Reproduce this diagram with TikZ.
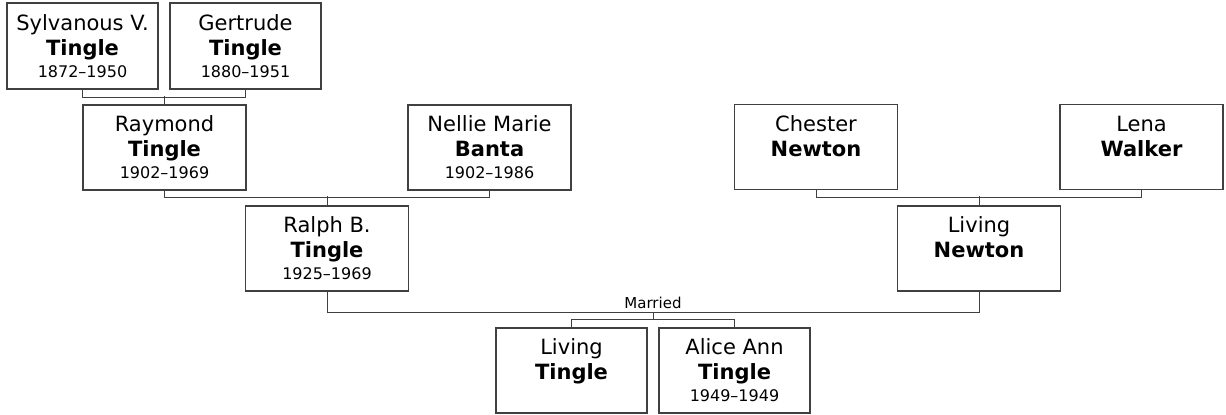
\documentclass[tikz,border=0pt]{standalone}
\usepackage{fontspec}
\setmainfont{DejaVu Sans}
\newcommand{\yrs}[1]{{\fontsize{8}{11}\selectfont\vphantom{0}#1}}

\begin{document}
\begin{tikzpicture}[x=0.5pt,y=-0.5pt,
  person/.style={draw=black!75,line width=0.7pt,minimum width=81.5pt,minimum height=42.5pt,
    inner sep=2pt,align=center,font=\fontsize{10.5}{12.5}\selectfont},
  elder/.style={person,minimum width=75.5pt,minimum height=43pt},
  link/.style={draw=black!75,line width=0.5pt}]
\useasboundingbox (0,0) rectangle (1226,414);
% grandparents and parents
\node[elder] (syl) at (82.5,46) {Sylvanous V.\\\textbf{Tingle}\\[-1.5pt]\yrs{1872--1950}};
\node[elder] (ger) at (245.5,46) {Gertrude\\\textbf{Tingle}\\[-1.5pt]\yrs{1880--1951}};
\node[person] (ray) at (164.5,147.5) {Raymond\\\textbf{Tingle}\\[-1.5pt]\yrs{1902--1969}};
\node[person] (nel) at (489.5,147.5) {Nellie Marie\\\textbf{Banta}\\[-1.5pt]\yrs{1902--1986}};
\node[person] (ral) at (327,248.5) {Ralph B.\\\textbf{Tingle}\\[-1.5pt]\yrs{1925--1969}};
\node[person] (che) at (816,147) {Chester\\\textbf{Newton}\\[-1.5pt]\yrs{}};
\node[person] (len) at (1141.5,147) {Lena\\\textbf{Walker}\\[-1.5pt]\yrs{}};
\node[person] (lnw) at (979,248.5) {Living\\\textbf{Newton}\\[-1.5pt]\yrs{}};
% children
\node[elder,minimum height=42.5pt] (lti) at (571.5,370.5) {Living\\\textbf{Tingle}\\[-1.5pt]\yrs{}};
\node[elder,minimum height=42.5pt] (ali) at (734.5,370.5) {Alice Ann\\\textbf{Tingle}\\[-1.5pt]\yrs{1949--1949}};

\draw[link] (syl.south) -- ++(0,8) -| (ger.south);
\draw[link] (ray.north) -- ++(0,-8);
\draw[link] (ray.south) -- ++(0,7) -| (nel.south);
\draw[link] (ral.north) -- ++(0,-9);
\draw[link] (che.south) -- ++(0,7) -| (len.south);
\draw[link] (lnw.north) -- ++(0,-9);
\draw[link] (ral.south) -- ++(0,21) -| (lnw.south);
\coordinate (wed) at (653,312);
\node[above,inner sep=1.5pt,font=\fontsize{7.5}{9}\selectfont] (mar) at (wed) {Married};
\draw[link] (wed) -- ++(0,8);
\draw[link] (lti.north) -- ++(0,-8) -| (ali.north);
\end{tikzpicture}
\end{document}
